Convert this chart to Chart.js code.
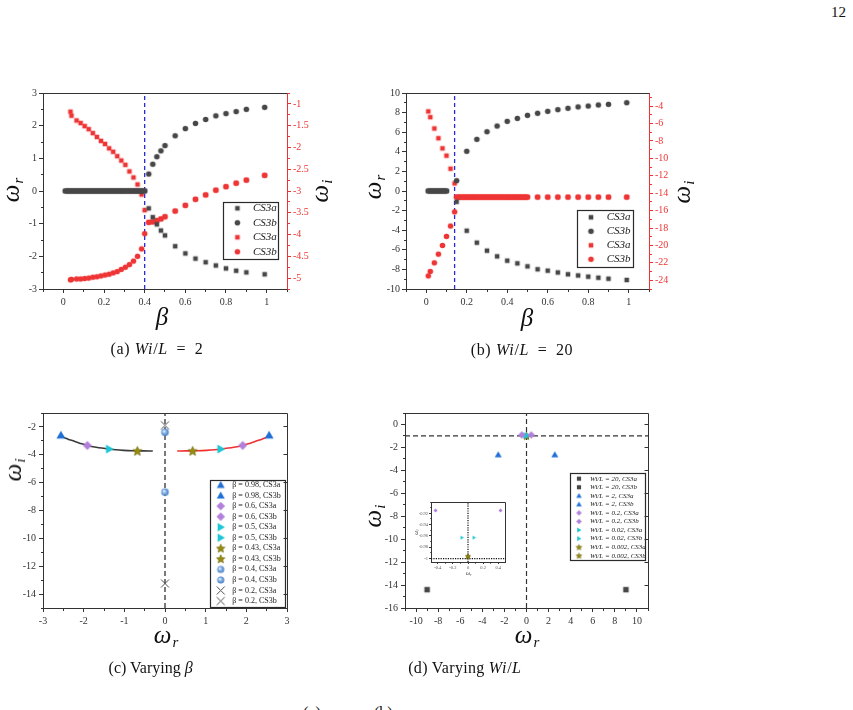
<!DOCTYPE html>
<html><head><meta charset="utf-8">
<script src="https://cdn.jsdelivr.net/npm/chart.js@4.4.1/dist/chart.umd.min.js"></script>
<style>
html,body{margin:0;padding:0;background:#fff;}
body{width:853px;height:710px;overflow:hidden;position:relative;font-family:"Liberation Serif","Times New Roman",serif;color:#111;}
canvas{position:absolute;}
.t{position:absolute;white-space:nowrap;line-height:1;}
.c{transform:translate(-50%,-50%);}
.r{transform:translate(-50%,-50%) rotate(-90deg);}
.ax{font-style:italic;font-size:25px;}
.ax sub{font-size:15px;vertical-align:-4px;margin-left:1px;}
.cap{font-size:16px;}
.cap i{letter-spacing:0.8px;}
.ins{font-style:italic;font-size:6px;color:#333;}
.ins sub{font-size:4px;vertical-align:-1px;}
</style></head><body>
<canvas id="ca" width="330" height="262" style="left:0px;top:80px"></canvas>
<canvas id="cb" width="330" height="262" style="left:360px;top:80px"></canvas>
<canvas id="cc" width="310" height="262" style="left:0px;top:400px"></canvas>
<canvas id="cd" width="310" height="262" style="left:360px;top:400px"></canvas>
<canvas id="ci" width="100" height="85" style="left:410px;top:497px"></canvas>

<div class="t" style="right:7px;top:5px;font-size:15px;">12</div>

<div class="t ax r" style="left:12px;top:190px;">ω<sub>r</sub></div>
<div class="t ax r" style="left:321px;top:191px;">ω<sub>i</sub></div>
<div class="t ax c" style="left:162px;top:316px;">β</div>
<div class="t cap c" style="left:157px;top:349px;letter-spacing:0.6px;">(a) <i>Wi</i>/<i>L</i>&ensp;=&ensp;2</div>

<div class="t ax r" style="left:374px;top:187px;">ω<sub>r</sub></div>
<div class="t ax r" style="left:683px;top:192px;">ω<sub>i</sub></div>
<div class="t ax c" style="left:527px;top:317px;">β</div>
<div class="t cap c" style="left:522px;top:350px;letter-spacing:0.6px;">(b) <i>Wi</i>/<i>L</i>&ensp;=&ensp;20</div>

<div class="t ax r" style="left:14px;top:470px;">ω<sub>i</sub></div>
<div class="t ax c" style="left:166px;top:636px;">ω<sub>r</sub></div>
<div class="t cap c" style="left:151px;top:668px;">(c) Varying <i>β</i></div>

<div class="t ax r" style="left:374px;top:516px;">ω<sub>i</sub></div>
<div class="t ax c" style="left:527px;top:636px;">ω<sub>r</sub></div>
<div class="t cap c" style="left:465px;top:668px;letter-spacing:0.3px;">(d) Varying <i>Wi</i>/<i>L</i></div>

<div class="t ins c" style="left:469px;top:573px;">ω<sub>r</sub></div>
<div class="t ins r" style="left:416px;top:532px;">ω<sub>i</sub></div>

<div class="t cap" style="left:303px;top:705px;">(a)</div>
<div class="t cap" style="left:374px;top:705px;">(b)</div>

<script>
// ================= DATA =================
// (a) Wi/L = 2 : real part vs beta
const betaA_r = [0.01,0.02,0.03,0.04,0.05,0.06,0.07,0.08,0.09,0.10,0.11,0.12,0.13,0.14,0.15,0.16,0.17,0.18,0.19,0.20,
  0.21,0.22,0.23,0.24,0.25,0.26,0.27,0.28,0.29,0.30,0.31,0.32,0.33,0.34,0.35,0.36,0.37,0.38,0.39,0.40,
  0.42,0.44,0.46,0.48,0.5,0.55,0.6,0.65,0.7,0.75,0.8,0.85,0.9,0.99];
const wrA_CS3a = [0,0,0,0,0,0,0,0,0,0,0,0,0,0,0,0,0,0,0,0,0,0,0,0,0,0,0,0,0,0,0,0,0,0,0,0,0,0,0,0,
  -0.53,-0.8,-1.02,-1.21,-1.36,-1.69,-1.91,-2.07,-2.18,-2.28,-2.37,-2.44,-2.49,-2.55];
const wrA_CS3b = [0,0,0,0,0,0,0,0,0,0,0,0,0,0,0,0,0,0,0,0,0,0,0,0,0,0,0,0,0,0,0,0,0,0,0,0,0,0,0,0,
  0.52,0.82,1.05,1.23,1.39,1.69,1.91,2.07,2.19,2.30,2.37,2.43,2.50,2.56];
// (a) imaginary part vs beta
const betaA_i = [0.035,0.04,0.065,0.085,0.105,0.125,0.145,0.165,0.185,0.205,0.225,0.245,0.265,0.285,0.305,0.325,0.345,0.365,0.385,0.4,
  0.42,0.44,0.46,0.48,0.5,0.55,0.6,0.65,0.7,0.75,0.8,0.85,0.9,0.99];
const wiA_CS3a = [-1.18,-1.27,-1.38,-1.44,-1.51,-1.58,-1.67,-1.76,-1.85,-1.92,-2.02,-2.10,-2.20,-2.30,-2.40,-2.55,-2.69,-2.85,-3.08,-3.44,
  -3.72,-3.71,-3.68,-3.64,-3.59,-3.46,-3.33,-3.19,-3.09,-2.98,-2.90,-2.82,-2.75,-2.64];
const wiA_CS3b = [-5.04,-5.03,-5.02,-5.02,-5.01,-5.0,-4.98,-4.97,-4.95,-4.93,-4.91,-4.88,-4.85,-4.80,-4.75,-4.69,-4.61,-4.50,-4.33,-3.98,
  -3.72,-3.71,-3.68,-3.64,-3.59,-3.46,-3.33,-3.19,-3.09,-2.98,-2.90,-2.82,-2.75,-2.64];
const critBetaA = 0.4;

// (b) Wi/L = 20
const betaB_r = [0.01,0.02,0.03,0.04,0.05,0.06,0.07,0.08,0.09,0.10,
  0.15,0.2,0.25,0.3,0.35,0.4,0.45,0.5,0.55,0.6,0.65,0.7,0.75,0.8,0.85,0.9,0.99];
const wrB_CS3a = [0,0,0,0,0,0,0,0,0,0,
  -1.1,-4.05,-5.27,-6.09,-6.67,-7.11,-7.38,-7.69,-7.99,-8.13,-8.31,-8.5,-8.62,-8.74,-8.85,-8.95,-9.08];
const wrB_CS3b = [0,0,0,0,0,0,0,0,0,0,
  1.05,4.05,5.27,6.05,6.63,7.11,7.41,7.72,7.93,8.13,8.3,8.44,8.58,8.67,8.78,8.84,9.01];
const betaB_i = [0.01,0.02,0.04,0.06,0.08,0.1,0.12,0.14,
  0.15,0.16,0.17,0.18,0.19,0.20,0.21,0.22,0.23,0.24,0.25,0.26,0.27,0.28,0.29,0.30,0.31,0.32,0.33,0.34,0.35,0.36,0.37,0.38,0.39,0.40,
  0.41,0.42,0.43,0.44,0.45,0.46,0.47,0.48,0.49,0.50,0.55,0.6,0.65,0.7,0.75,0.8,0.85,0.9,0.99];
const wiB_CS3a = [-4.61,-5.27,-6.57,-7.69,-8.85,-9.69,-11.19,-12.88,
  -14.45,-14.45,-14.45,-14.45,-14.45,-14.45,-14.45,-14.45,-14.45,-14.45,-14.45,-14.45,-14.45,-14.45,-14.45,-14.45,-14.45,-14.45,-14.45,-14.45,-14.45,-14.45,-14.45,-14.45,-14.45,-14.45,
  -14.45,-14.45,-14.45,-14.45,-14.45,-14.45,-14.45,-14.45,-14.45,-14.45,-14.45,-14.45,-14.45,-14.45,-14.45,-14.45,-14.45,-14.45,-14.45];
const wiB_CS3b = [-23.5,-22.99,-22.0,-21.0,-20.0,-18.96,-17.77,-16.15,
  -14.45,-14.45,-14.45,-14.45,-14.45,-14.45,-14.45,-14.45,-14.45,-14.45,-14.45,-14.45,-14.45,-14.45,-14.45,-14.45,-14.45,-14.45,-14.45,-14.45,-14.45,-14.45,-14.45,-14.45,-14.45,-14.45,
  -14.45,-14.45,-14.45,-14.45,-14.45,-14.45,-14.45,-14.45,-14.45,-14.45,-14.45,-14.45,-14.45,-14.45,-14.45,-14.45,-14.45,-14.45,-14.45];
const critBetaB = 0.14;

// (c) varying beta
const cLabels = ['β = 0.98, CS3a','β = 0.98, CS3b','β = 0.6, CS3a','β = 0.6, CS3b','β = 0.5, CS3a','β = 0.5, CS3b',
  'β = 0.43, CS3a','β = 0.43, CS3b','β = 0.4, CS3a','β = 0.4, CS3b','β = 0.2, CS3a','β = 0.2, CS3b'];
const cWr = [-2.56, 2.56, -1.91, 1.91, -1.37, 1.37, -0.68, 0.68, 0, 0, 0, 0];
const cWi = [-2.6, -2.6, -3.33, -3.33, -3.59, -3.59, -3.72, -3.72, -2.38, -6.68, -1.88, -13.24];
const cCurveA_r = [-2.56,-2.49,-2.44,-2.37,-2.28,-2.18,-2.07,-1.91,-1.69,-1.37,-1.21,-1.02,-0.8,-0.53,-0.3];
const cCurveA_i = [-2.64,-2.75,-2.82,-2.9,-2.98,-3.09,-3.19,-3.33,-3.46,-3.59,-3.64,-3.68,-3.71,-3.72,-3.73];
const cCurveB_r = [0.3,0.53,0.8,1.02,1.21,1.37,1.69,1.91,2.07,2.18,2.28,2.37,2.44,2.49,2.56];
const cCurveB_i = [-3.73,-3.72,-3.71,-3.68,-3.64,-3.59,-3.46,-3.33,-3.19,-3.09,-2.98,-2.9,-2.82,-2.75,-2.64];

// (d) varying Wi/L
const dLabels = ['Wi/L = 20, CS3a','Wi/L = 20, CS3b','Wi/L = 2, CS3a','Wi/L = 2, CS3b','Wi/L = 0.2, CS3a','Wi/L = 0.2, CS3b',
  'Wi/L = 0.02, CS3a','Wi/L = 0.02, CS3b','Wi/L = 0.002, CS3a','Wi/L = 0.002, CS3b'];
const dWr = [-9.0, 9.0, -2.56, 2.56, -0.43, 0.43, -0.08, 0.08, 0, 0];
const dWi = [-14.4, -14.4, -2.64, -2.64, -0.915, -0.915, -0.963, -0.963, -0.996, -0.996];
const refWr = 0, refWi = -1;

// ranges and ticks
const rangeA_x = [-0.1, 1.1], rangeA_y = [-3, 3], rangeA_y2 = [-5.25, -0.75];
const ticksA_x = [0, 0.2, 0.4, 0.6, 0.8, 1];
const ticksA_y = [-3, -2, -1, 0, 1, 2, 3];
const ticksA_y2 = [-5, -4.5, -4, -3.5, -3, -2.5, -2, -1.5, -1];
const rangeB_x = [-0.1, 1.1], rangeB_y = [-10, 10], rangeB_y2 = [-25, -2.5];
const ticksB_x = [0, 0.2, 0.4, 0.6, 0.8, 1];
const ticksB_y = [-10, -8, -6, -4, -2, 0, 2, 4, 6, 8, 10];
const ticksB_y2 = [-24, -22, -20, -18, -16, -14, -12, -10, -8, -6, -4];
const rangeC_x = [-3, 3], rangeC_y = [-15, -1];
const ticksC_x = [-3, -2, -1, 0, 1, 2, 3];
const ticksC_y = [-14, -12, -10, -8, -6, -4, -2];
const rangeD_x = [-11, 11], rangeD_y = [-16, 1];
const ticksD_x = [-10, -8, -6, -4, -2, 0, 2, 4, 6, 8, 10];
const ticksD_y = [-16, -14, -12, -10, -8, -6, -4, -2, 0];
const rangeI_x = [-0.49, 0.49], rangeI_y = [-1.006, -0.9];
const ticksI_x = [-0.4, -0.2, 0, 0.2, 0.4];
const ticksI_y = [-1, -0.98, -0.96, -0.94, -0.92];

// ================= STYLE HELPERS =================
Chart.defaults.font.family = '"Liberation Serif", "Times New Roman", serif';
const GREY = '#474747', RED = '#ee3535', BLUE = '#1f6fd6', PURPLE = '#b27fdb', CYAN = '#1dc6d6', OLIVE = '#978b10';

function mkImg(shape, d, fill, stroke, lw) {
  const s = Math.ceil(d) + 3;
  const c = document.createElement('canvas');
  c.width = s; c.height = s;
  const g = c.getContext('2d');
  const cx = s / 2, cy = s / 2, r = d / 2;
  g.fillStyle = fill; g.strokeStyle = stroke || fill; g.lineWidth = lw || 0.8;
  g.beginPath();
  if (shape === 'square') { g.rect(cx - r, cy - r, 2 * r, 2 * r); g.fill(); }
  else if (shape === 'circle') { g.arc(cx, cy, r, 0, 2 * Math.PI); g.fill(); }
  else if (shape === 'triUp') { g.moveTo(cx, cy - r); g.lineTo(cx + r, cy + r * 0.73); g.lineTo(cx - r, cy + r * 0.73); g.closePath(); g.fill(); }
  else if (shape === 'triRight') { g.moveTo(cx + r, cy); g.lineTo(cx - r * 0.73, cy - r); g.lineTo(cx - r * 0.73, cy + r); g.closePath(); g.fill(); }
  else if (shape === 'diamond') { g.moveTo(cx, cy - r); g.lineTo(cx + r, cy); g.lineTo(cx, cy + r); g.lineTo(cx - r, cy); g.closePath(); g.fill(); }
  else if (shape === 'star') {
    for (let k = 0; k < 10; k++) {
      const a = -Math.PI / 2 + k * Math.PI / 5, rr = (k % 2 === 0) ? r : r * 0.45;
      const px = cx + rr * Math.cos(a), py = cy + 0.08 * r + rr * Math.sin(a);
      if (k === 0) g.moveTo(px, py); else g.lineTo(px, py);
    }
    g.closePath(); g.fill(); g.strokeStyle = '#6e6508'; g.lineWidth = 0.6; g.stroke();
  }
  else if (shape === 'sphere') {
    const gr = g.createRadialGradient(cx - r * 0.35, cy - r * 0.35, r * 0.05, cx, cy, r);
    gr.addColorStop(0, '#f2f8ff'); gr.addColorStop(0.45, '#8db8e8'); gr.addColorStop(1, '#3f78bf');
    g.fillStyle = gr; g.arc(cx, cy, r, 0, 2 * Math.PI); g.fill();
  }
  else if (shape === 'cross') {
    g.moveTo(cx - r, cy - r); g.lineTo(cx + r, cy + r); g.moveTo(cx + r, cy - r); g.lineTo(cx - r, cy + r); g.stroke();
  }
  return c;
}

function pts(xs, ys) { return xs.map((x, i) => ({ x: x, y: ys[i] })); }

function scat(label, data, img, legendImg, yAxisID) {
  return { label: label, data: data, pointStyle: img, legendImg: legendImg || img, pointRadius: 3, pointHoverRadius: 3,
    yAxisID: yAxisID || 'y', showLine: false, order: 1 };
}
function lineDs(data, color, dash, width, yAxisID, tension, order) {
  return { label: '', data: data, showLine: true, borderColor: color, backgroundColor: color, borderWidth: width,
    borderDash: dash, pointRadius: 0, pointHoverRadius: 0, yAxisID: yAxisID || 'y', tension: tension || 0,
    cubicInterpolationMode: tension ? 'monotone' : 'default', fill: false, order: order || 10 };
}

function axis(pos, range, ticks, size, opt) {
  opt = opt || {};
  const color = opt.color || '#333';
  return {
    type: 'linear', position: pos, min: range[0], max: range[1],
    afterFit: function (s) { if (s.isHorizontal()) s.height = size; else s.width = size; },
    afterBuildTicks: function (s) { s.ticks = ticks.map(v => ({ value: v })); },
    grid: { display: true, drawOnChartArea: false, drawTicks: true, tickLength: opt.tl || 4, color: color, lineWidth: 1 },
    border: { display: true, color: color, width: 1 },
    ticks: { autoSkip: false, maxRotation: 0, minRotation: 0, padding: (opt.pad !== undefined ? opt.pad : 2), color: opt.labelColor || color,
      font: { family: '"Liberation Serif", serif', size: opt.fs || 10 }, callback: v => String(v) },
    title: { display: false }
  };
}

function legendCfg(fs, style, W, pad) {
  return {
    display: true, position: 'right', align: 'start', maxWidth: 1,
    labels: {
      usePointStyle: true, pointStyleWidth: W, padding: pad, color: '#222',
      font: { family: '"Liberation Serif", serif', size: fs, style: style },
      generateLabels: ch => ch.data.datasets.map((d, i) => ({
        text: d.label, pointStyle: d.legendImg, rotation: 0, datasetIndex: i, hidden: false,
        fontColor: '#222', lineWidth: 0, fillStyle: '#000', strokeStyle: '#000'
      })).filter(it => it.text)
    }
  };
}

const deco = {
  id: 'deco',
  beforeDraw(chart, args, o) {
    const ctx = chart.ctx;
    if (o.bg) { ctx.save(); ctx.fillStyle = '#fff'; ctx.fillRect(0, 0, chart.width, chart.height); ctx.restore(); }
    if (o.legendBox) {
      const b = o.legendBox;
      ctx.save(); ctx.fillStyle = '#fff'; ctx.fillRect(b[0], b[1], b[2] - b[0], b[3] - b[1]);
      ctx.strokeStyle = '#2a2a2a'; ctx.lineWidth = 1.2;
      ctx.strokeRect(Math.round(b[0]) + 0.5, Math.round(b[1]) + 0.5, Math.round(b[2] - b[0]), Math.round(b[3] - b[1]));
      ctx.restore();
    }
    const L = chart.legend;
    if (o.legendPos && L) {
      L.left = o.legendPos[0]; L.top = o.legendPos[1];
      L.width = 160; L.height = 300; L.right = L.left + 160; L.bottom = L.top + 300;
    }
  },
  afterDraw(chart, args, o) {
    const ctx = chart.ctx, ca = chart.chartArea;
    const al = v => Math.round(v - 0.5) + 0.5;
    ctx.save();
    ctx.lineWidth = 1; ctx.strokeStyle = '#333';
    ctx.beginPath();
    ctx.moveTo(al(ca.left), al(ca.top)); ctx.lineTo(al(ca.right), al(ca.top));
    if (!o.hasRight) ctx.lineTo(al(ca.right), al(ca.bottom));
    ctx.stroke();
    const len = o.minorLen || 2.5;
    if (o.mirror) {
      const ys = chart.scales.y;
      ys.ticks.forEach(t => { const p = al(ys.getPixelForValue(t.value)); ctx.beginPath(); ctx.moveTo(al(ca.right), p); ctx.lineTo(al(ca.right) - 4, p); ctx.stroke(); });
    }
    const steps = o.minor || {};
    Object.keys(steps).forEach(id => {
      const sc = chart.scales[id]; if (!sc) return;
      const step = steps[id];
      ctx.strokeStyle = sc.options.border.color;
      const k0 = Math.ceil(sc.min / step - 1e-9), k1 = Math.floor(sc.max / step + 1e-9);
      for (let k = k0; k <= k1; k++) {
        const p = al(sc.getPixelForValue(k * step));
        ctx.beginPath();
        if (sc.isHorizontal()) { const y = al(ca.bottom); ctx.moveTo(p, y); ctx.lineTo(p, y + len); }
        else if (sc.position === 'left') { const x = al(ca.left); ctx.moveTo(x, p); ctx.lineTo(x - len, p); }
        else { const x = al(ca.right); ctx.moveTo(x, p); ctx.lineTo(x + len, p); }
        ctx.stroke();
      }
    });
    ctx.restore();
  }
};
Chart.register(deco);

function mk(id, datasets, scales, plugins, pad) {
  return new Chart(document.getElementById(id), {
    type: 'scatter',
    data: { datasets: datasets },
    options: {
      responsive: false, animation: false, devicePixelRatio: 1, events: [],
      layout: { padding: pad },
      scales: scales,
      plugins: Object.assign({ tooltip: { enabled: false } }, plugins)
    }
  });
}

// ================= CHART (a) =================
{
  const sqG = mkImg('square', 4.6, GREY), ciG = mkImg('circle', 5.6, GREY);
  const sqR = mkImg('square', 4.6, RED), ciR = mkImg('circle', 5.6, RED);
  mk('ca', [
    scat('CS3a', pts(betaA_r, wrA_CS3a), sqG),
    scat('CS3b', pts(betaA_r, wrA_CS3b), ciG),
    scat('CS3a', pts(betaA_i, wiA_CS3a), sqR, null, 'y2'),
    scat('CS3b', pts(betaA_i, wiA_CS3b), ciR, null, 'y2'),
    lineDs(pts([critBetaA, critBetaA], rangeA_y), '#2a2ad8', [4, 3], 1.3, 'y', 0, 20)
  ], {
    x: axis('bottom', rangeA_x, ticksA_x, 53, { pad: 3 }),
    y: axis('left', rangeA_y, ticksA_y, 43, { pad: 2 }),
    y2: axis('right', rangeA_y2, ticksA_y2, 42, { pad: 2, color: '#ee3333' })
  }, {
    legend: legendCfg(11, 'italic', 20, 3.5),
    deco: { legendPos: [223.9, 119.3], legendBox: [222.7, 121.7, 277.7, 179], hasRight: true, minor: { x: 0.1, y: 0.5, y2: 0.25 } }
  }, { top: 13, left: 0, right: 0, bottom: 0 });
}

// ================= CHART (b) =================
{
  const sqG = mkImg('square', 4.6, GREY), ciG = mkImg('circle', 5.6, GREY);
  const sqR = mkImg('square', 4.6, RED), ciR = mkImg('circle', 5.6, RED);
  mk('cb', [
    scat('CS3a', pts(betaB_r, wrB_CS3a), sqG),
    scat('CS3b', pts(betaB_r, wrB_CS3b), ciG),
    scat('CS3a', pts(betaB_i, wiB_CS3a), sqR, null, 'y2'),
    scat('CS3b', pts(betaB_i, wiB_CS3b), ciR, null, 'y2'),
    lineDs(pts([critBetaB, critBetaB], rangeB_y), '#2a2ad8', [4, 3], 1.3, 'y', 0, 20)
  ], {
    x: axis('bottom', rangeB_x, ticksB_x, 53, { pad: 3 }),
    y: axis('left', rangeB_y, ticksB_y, 46, { pad: 2 }),
    y2: axis('right', rangeB_y2, ticksB_y2, 40, { pad: 2, color: '#ee3333' })
  }, {
    legend: legendCfg(11, 'italic', 20.4, 3),
    deco: { legendPos: [217.8, 128.8], legendBox: [216.7, 130, 272.3, 186.7], hasRight: true, minor: { x: 0.1, y: 1, y2: 1 } }
  }, { top: 13, left: 0, right: 0, bottom: 0 });
}

// ================= CHART (c) =================
{
  const styles = [
    ['triUp', 9, BLUE, 8], ['triUp', 9, BLUE, 8],
    ['diamond', 9, PURPLE, 8.5], ['diamond', 9, PURPLE, 8.5],
    ['triRight', 9, CYAN, 8.5], ['triRight', 9, CYAN, 8.5],
    ['star', 10, OLIVE, 9], ['star', 10, OLIVE, 9],
    ['sphere', 7.5, '#7aa8dc', 7], ['sphere', 7.5, '#7aa8dc', 7],
    ['cross', 8, 'none', 8], ['cross', 8, 'none', 8]
  ];
  const ds = cLabels.map((lab, i) => {
    const s = styles[i];
    const stroke = s[0] === 'cross' ? '#505050' : null;
    return scat(lab, pts([cWr[i]], [cWi[i]]), mkImg(s[0], s[1], s[2], stroke, 1), mkImg(s[0], s[3], s[2], stroke, 1));
  });
  ds.push(lineDs(pts(cCurveA_r, cCurveA_i), '#3a3a3a', [], 1.6, 'y', 0.4, 10));
  ds.push(lineDs(pts(cCurveB_r, cCurveB_i), '#f03030', [], 1.6, 'y', 0.4, 10));
  ds.push(lineDs(pts([refWr, refWr], rangeC_y), '#222', [5, 3], 1.2, 'y', 0, 20));
  mk('cc', ds, {
    x: axis('bottom', rangeC_x, ticksC_x, 54, { pad: 3 }),
    y: axis('left', rangeC_y, ticksC_y, 43, { pad: 3 })
  }, {
    legend: legendCfg(8, 'normal', 15.2, 2.55),
    deco: { legendPos: [210.55, 78.45], legendBox: [210, 80, 285, 206.7], hasRight: false, mirror: true, minor: { x: 0.5, y: 1 } }
  }, { top: 13, left: 0, right: 22, bottom: 0 });
}

// ================= CHART (d) =================
const dStyles = [
  ['square', 5.5, GREY, 4.2], ['square', 5.5, GREY, 4.2],
  ['triUp', 7, BLUE, 5.5], ['triUp', 7, BLUE, 5.5],
  ['diamond', 7.5, PURPLE, 5.5], ['diamond', 7.5, PURPLE, 5.5],
  ['triRight', 6.5, CYAN, 5], ['triRight', 6.5, CYAN, 5],
  ['star', 7.5, OLIVE, 6], ['star', 7.5, OLIVE, 6]
];
{
  const ds = dLabels.map((lab, i) => {
    const s = dStyles[i];
    return scat(lab, pts([dWr[i]], [dWi[i]]), mkImg(s[0], s[1], s[2]), mkImg(s[0], s[3], s[2]));
  });
  ds.push(lineDs(pts([refWr, refWr], rangeD_y), '#333', [5, 3], 1.2, 'y', 0, 20));
  ds.push(lineDs(pts(rangeD_x, [refWi, refWi]), '#333', [5, 3], 1.2, 'y', 0, 20));
  mk('cd', ds, {
    x: axis('bottom', rangeD_x, ticksD_x, 54, { pad: 3 }),
    y: axis('left', rangeD_y, ticksD_y, 45, { pad: 3 })
  }, {
    legend: legendCfg(7, 'italic', 15, 1.56),
    deco: { legendPos: [209.9, 73.6], legendBox: [210, 72.7, 285, 159.3], hasRight: false, mirror: true, minor: { x: 1, y: 1 } }
  }, { top: 13, left: 0, right: 21, bottom: 0 });
}

// ================= INSET of (d) =================
{
  const inSize = [3.5, 3.5, 3.5, 3.5, 4, 4, 4, 4, 5, 5];
  const ds = dLabels.map((lab, i) => {
    const s = dStyles[i];
    return scat('', pts([dWr[i]], [dWi[i]]), mkImg(s[0], inSize[i], s[2]));
  });
  ds.push(lineDs(pts([refWr, refWr], rangeI_y), '#111', [1.2, 1.2], 1.2, 'y', 0, 20));
  ds.push(lineDs(pts(rangeI_x, [refWi, refWi]), '#111', [1.2, 1.2], 1.2, 'y', 0, 20));
  mk('ci', ds, {
    x: axis('bottom', rangeI_x, ticksI_x, 20, { pad: 1, tl: 2, fs: 4.5, labelColor: '#555' }),
    y: axis('left', rangeI_y, ticksI_y, 21, { pad: 1, tl: 2, fs: 4.5, labelColor: '#555' })
  }, {
    legend: { display: false },
    deco: { bg: true, hasRight: false, minor: { x: 0.1, y: 0.01 }, minorLen: 1.2 }
  }, { top: 5, left: 0, right: 5, bottom: 0 });
}
</script>
</body></html>
